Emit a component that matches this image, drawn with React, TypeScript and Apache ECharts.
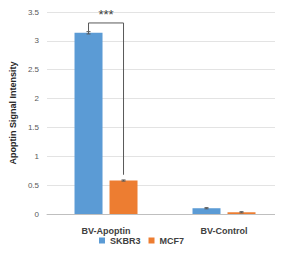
import React, { useEffect, useRef } from "react";
import * as echarts from "echarts";

const categories = ["BV-Apoptin", "BV-Control"];
const skbr3 = [3.14, 0.1];
const mcf7 = [0.58, 0.03];
const skbr3Err = [0.02, 0.01];
const mcf7Err = [0.01, 0.01];
const yTicks = { min: 0, max: 3.5, interval: 0.5 };
const bracket = { left: 3.17, top: 3.31, right: 0.68, label: "***" };

const BAR_W = 28;
const OFFSET = 17.5;

export default function App() {
  const ref = useRef<HTMLDivElement>(null);
  useEffect(() => {
    if (!ref.current) return;
    const chart = echarts.init(ref.current, null, { renderer: "svg" });
    const font = "'Liberation Sans', Arial, sans-serif";
    const errData: number[][] = [];
    skbr3.forEach((v, i) => errData.push([i, v, skbr3Err[i], -1]));
    mcf7.forEach((v, i) => errData.push([i, v, mcf7Err[i], 1]));
    chart.setOption({
      animation: false,
      textStyle: { fontFamily: font },
      grid: { left: 45, right: 0, top: 12, bottom: 39, containLabel: false },
      legend: {
        data: ["SKBR3", "MCF7"],
        bottom: 3,
        left: "center",
        itemWidth: 6,
        itemHeight: 6,
        itemGap: 8,
        icon: "rect",
        textStyle: { fontSize: 9, fontWeight: "bold", color: "#404040", fontFamily: font },
      },
      xAxis: {
        type: "category",
        data: categories,
        axisLine: { lineStyle: { color: "#BFBFBF" } },
        axisTick: { show: false },
        axisLabel: { fontSize: 9, fontWeight: "bold", color: "#404040", margin: 12 },
      },
      yAxis: {
        type: "value",
        min: yTicks.min,
        max: yTicks.max,
        interval: yTicks.interval,
        name: "Apoptin Signal Intensity",
        nameLocation: "middle",
        nameGap: 21,
        nameTextStyle: { fontSize: 9, fontWeight: "bold", color: "#262626" },
        axisLine: { show: false },
        axisTick: { show: false },
        axisLabel: { fontSize: 8, color: "#595959", margin: 8 },
        splitLine: { lineStyle: { color: "#E3E3E3" } },
      },
      series: [
        {
          name: "SKBR3",
          type: "bar",
          data: skbr3,
          barWidth: BAR_W,
          barGap: "25%",
          itemStyle: { color: "#5B9BD5" },
        },
        {
          name: "MCF7",
          type: "bar",
          data: mcf7,
          barWidth: BAR_W,
          itemStyle: { color: "#ED7D31" },
        },
        {
          type: "custom",
          data: errData,
          z: 5,
          renderItem: (params: any, api: any) => {
            const c = api.coord([api.value(0), api.value(1)]);
            const x = c[0] + api.value(3) * OFFSET;
            const hi = api.coord([api.value(0), api.value(1) + api.value(2)])[1];
            const lo = api.coord([api.value(0), api.value(1) - api.value(2)])[1];
            const st = { stroke: "#595959", lineWidth: 1 };
            return {
              type: "group",
              children: [
                { type: "line", shape: { x1: x, y1: hi, x2: x, y2: lo }, style: st },
                { type: "line", shape: { x1: x - 2, y1: hi, x2: x + 2, y2: hi }, style: st },
                { type: "line", shape: { x1: x - 2, y1: lo, x2: x + 2, y2: lo }, style: st },
              ],
            };
          },
        },
        {
          type: "custom",
          data: [[0, bracket.left, bracket.top, bracket.right]],
          z: 6,
          renderItem: (params: any, api: any) => {
            const c = api.coord([0, bracket.top]);
            const xl = c[0] - OFFSET;
            const xr = c[0] + OFFSET;
            const yt = c[1];
            const yl = api.coord([0, api.value(1)])[1];
            const yr = api.coord([0, api.value(3)])[1];
            return {
              type: "group",
              children: [
                {
                  type: "polyline",
                  shape: { points: [[xl, yl], [xl, yt], [xr, yt], [xr, yr]] },
                  style: { stroke: "#595959", lineWidth: 1, fill: "none" },
                },
                {
                  type: "text",
                  style: {
                    text: bracket.label,
                    x: c[0],
                    y: yt - 2,
                    textAlign: "center",
                    textVerticalAlign: "bottom",
                    fontSize: 13,
                    fontWeight: "normal",
                    fill: "#404040",
                    fontFamily: font,
                  },
                },
              ],
            };
          },
        },
      ],
    });
    return () => chart.dispose();
  }, []);
  return <div ref={ref} style={{ width: 283, height: 253, margin: -8 }} />;
}
